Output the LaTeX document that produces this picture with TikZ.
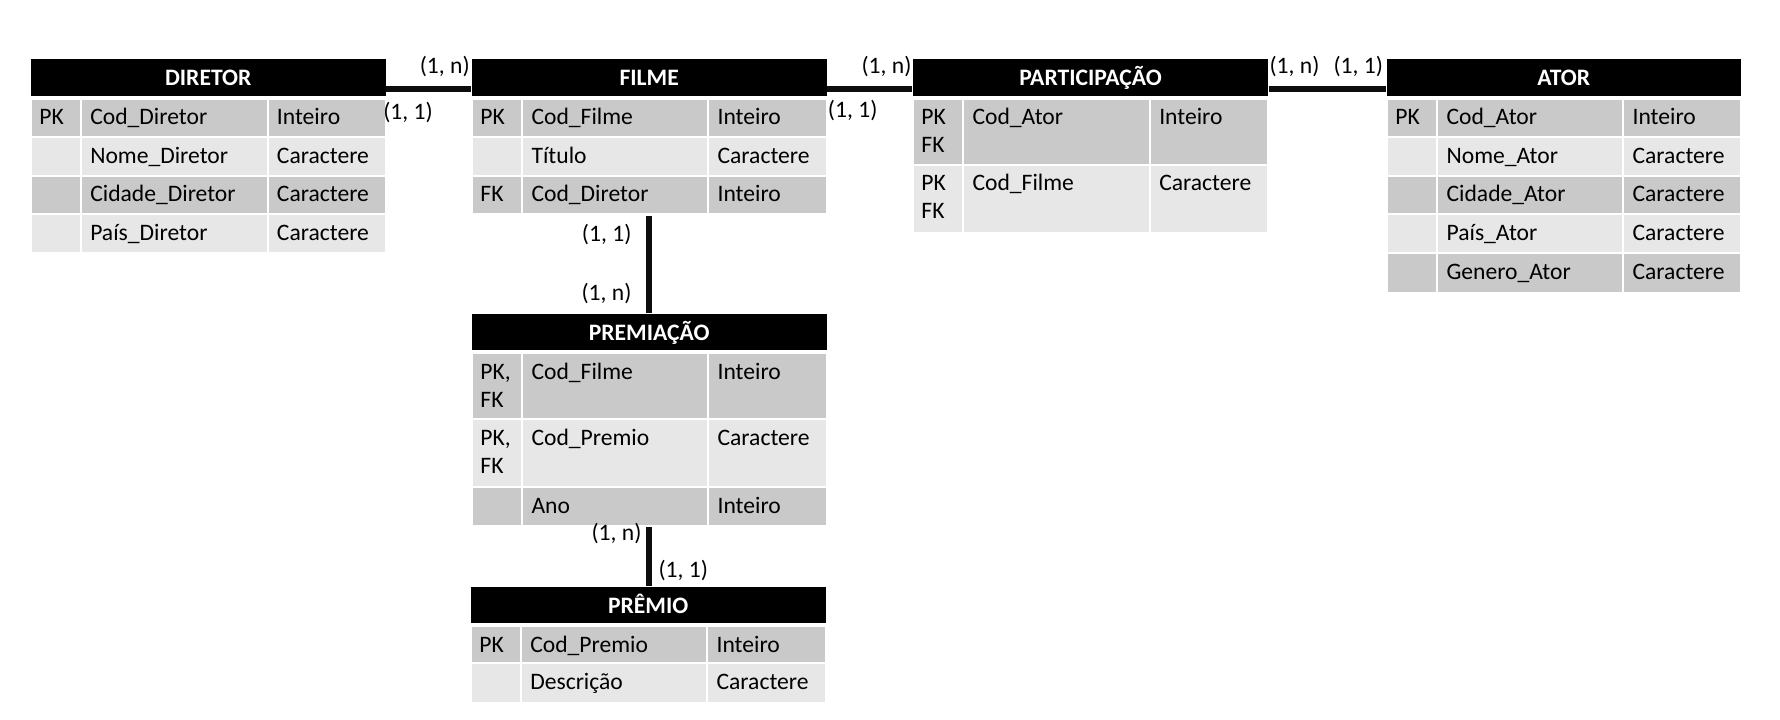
\documentclass[tikz,border=0pt]{standalone}
\usepackage{fontspec}
\setmainfont{Carlito}
\usetikzlibrary{fit,calc}

\definecolor{rowdark}{RGB}{201,201,201}
\definecolor{rowlight}{RGB}{231,231,231}
\newcommand\tabfont{\fontsize{17.7}{21}\selectfont}

\tikzset{
  cellbox/.style={inner sep=0pt, draw=white, line width=1.5pt},
  hdrbox/.style={inner sep=0pt, fill=black},
  hdrtext/.style={anchor=base, inner sep=0pt, text=white, font=\tabfont\bfseries},
  celltext/.style={anchor=base west, inner sep=0pt, font=\tabfont},
  card/.style={inner sep=0pt, font=\tabfont},
  rel/.style={line width=4.5pt, draw=black!95},
  tablebox/.style={inner sep=0pt}
}

% table header: name, x1, y1, x2, y2, title
\newcommand\erhead[6]{%
  \node[hdrbox, fit={(#2,#3) (#4,#5)}] (#1) {};
  \node[hdrtext] (#1-title) at ($(#1.center)+(0,8.5)$) {#6};}

% one-line row: name, y1, y2, fill, key, attribute, type
\newcommand\errow[7]{%
  \node[cellbox, fill=#4, fit={(\tcA,#2) (\tcB,#3)}] (#1-k) {};
  \node[cellbox, fill=#4, fit={(\tcB,#2) (\tcC,#3)}] (#1-a) {};
  \node[cellbox, fill=#4, fit={(\tcC,#2) (\tcD,#3)}] (#1-t) {};
  \if\relax\detokenize{#5}\relax\else
    \node[celltext] (#1-kt) at ($(#1-k.north west)+(9.5,27)$) {#5};\fi
  \node[celltext] (#1-at) at ($(#1-a.north west)+(10,27)$) {#6};
  \node[celltext] (#1-tt) at ($(#1-t.north west)+(10,27)$) {#7};}

% two-line key row: name, y1, y2, fill, key line 1, key line 2, attribute, type
\newcommand\errowii[8]{%
  \errow{#1}{#2}{#3}{#4}{#5}{#7}{#8}%
  \node[celltext] (#1-kt2) at ($(#1-k.north west)+(9.5,55)$) {#6};}

\begin{document}
\begin{tikzpicture}[x=0.75pt, y=-0.75pt]
\useasboundingbox (0,0) rectangle (1780,720);

% DIRETOR
\def\tcA{30.7}\def\tcB{81}\def\tcC{267.7}\def\tcD{385.7}
\erhead{dirhdr}{30.7}{59}{385.7}{96}{DIRETOR}
\errow{dir1}{99}{137.5}{rowdark}{PK}{Cod\_Diretor}{Inteiro}
\errow{dir2}{137.5}{176}{rowlight}{}{Nome\_Diretor}{Caractere}
\errow{dir3}{176}{214.5}{rowdark}{}{Cidade\_Diretor}{Caractere}
\errow{dir4}{214.5}{253}{rowlight}{}{País\_Diretor}{Caractere}
\node[tablebox, fit=(dirhdr)(dir4-k)(dir4-t)] (diretor) {};

% FILME
\def\tcA{471.7}\def\tcB{522.3}\def\tcC{708.3}\def\tcD{826.7}
\erhead{filhdr}{471.7}{59}{826.7}{96}{FILME}
\errow{fil1}{99}{137.5}{rowdark}{PK}{Cod\_Filme}{Inteiro}
\errow{fil2}{137.5}{176}{rowlight}{}{Título}{Caractere}
\errow{fil3}{176}{214.5}{rowdark}{FK}{Cod\_Diretor}{Inteiro}
\node[tablebox, fit=(filhdr)(fil3-k)(fil3-t)] (filme) {};

% PARTICIPAÇÃO
\def\tcA{912.7}\def\tcB{963.3}\def\tcC{1150}\def\tcD{1268.3}
\erhead{parhdr}{912.7}{59}{1268.3}{96}{PARTICIPAÇÃO}
\errowii{par1}{99}{165}{rowdark}{PK}{FK}{Cod\_Ator}{Inteiro}
\errowii{par2}{165}{232.7}{rowlight}{PK}{FK}{Cod\_Filme}{Caractere}
\node[tablebox, fit=(parhdr)(par2-k)(par2-t)] (participacao) {};

% ATOR
\def\tcA{1386.7}\def\tcB{1437.3}\def\tcC{1623.3}\def\tcD{1740.7}
\erhead{atohdr}{1386.7}{59}{1740.7}{96}{ATOR}
\errow{ato1}{99}{137.5}{rowdark}{PK}{Cod\_Ator}{Inteiro}
\errow{ato2}{137.5}{176}{rowlight}{}{Nome\_Ator}{Caractere}
\errow{ato3}{176}{214.5}{rowdark}{}{Cidade\_Ator}{Caractere}
\errow{ato4}{214.5}{253}{rowlight}{}{País\_Ator}{Caractere}
\errow{ato5}{253}{292.5}{rowdark}{}{Genero\_Ator}{Caractere}
\node[tablebox, fit=(atohdr)(ato5-k)(ato5-t)] (ator) {};

% PREMIAÇÃO
\def\tcA{471.7}\def\tcB{522.3}\def\tcC{708.3}\def\tcD{826.7}
\erhead{prehdr}{471.7}{314}{826.7}{350}{PREMIAÇÃO}
\errowii{pre1}{353.3}{419.2}{rowdark}{PK,}{FK}{Cod\_Filme}{Inteiro}
\errowii{pre2}{419.2}{487}{rowlight}{PK,}{FK}{Cod\_Premio}{Caractere}
\errow{pre3}{487}{526}{rowdark}{}{Ano}{Inteiro}
\node[tablebox, fit=(prehdr)(pre3-k)(pre3-t)] (premiacao) {};

% PRÊMIO
\def\tcA{470.7}\def\tcB{521}\def\tcC{707.3}\def\tcD{825.7}
\erhead{prmhdr}{470.7}{586.7}{825.7}{623.3}{PRÊMIO}
\errow{prm1}{626.3}{663.3}{rowdark}{PK}{Cod\_Premio}{Inteiro}
\errow{prm2}{663.3}{703.3}{rowlight}{}{Descrição}{Caractere}
\node[tablebox, fit=(prmhdr)(prm2-k)(prm2-t)] (premio) {};

% relationships
\draw[rel] ([yshift=5.25pt]dirhdr.south east) -- ([yshift=5.25pt]filhdr.south west);
\draw[rel] ([yshift=5.25pt]filhdr.south east) -- ([yshift=5.25pt]parhdr.south west);
\draw[rel] ([yshift=5.25pt]parhdr.south east) -- ([yshift=5.25pt]atohdr.south west);
\draw[rel] (filme.south) -- (premiacao.north);
\draw[rel] (premiacao.south) -- (premiacao.south |- premio.north);

% cardinalities
\node[card, anchor=base east] (c1) at (470,74) {(1, n)};
\node[card, anchor=base west] (c2) at (383,120) {(1, 1)};
\node[card, anchor=base east] (c3) at (911.7,74) {(1, n)};
\node[card, anchor=base west] (c4) at (827.7,118) {(1, 1)};
\node[card, anchor=base west] (c5) at (1269.3,74) {(1, n)};
\node[card, anchor=base west] (c6) at (1333.3,74) {(1, 1)};
\node[card, anchor=base east] (c7) at (631.7,241.7) {(1, 1)};
\node[card, anchor=base east] (c8) at (631.7,300) {(1, n)};
\node[card, anchor=base east] (c9) at (641.7,540) {(1, n)};
\node[card, anchor=base west] (c10) at (658.3,577) {(1, 1)};
\end{tikzpicture}
\end{document}
